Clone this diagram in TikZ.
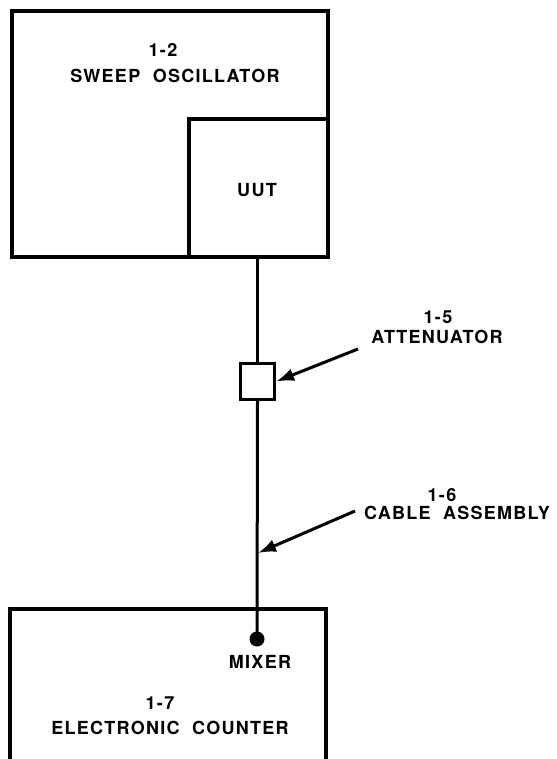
\documentclass[tikz,border=0pt]{standalone}
\usepackage{fontspec}
\setmainfont{TeX Gyre Heros}[LetterSpace=7]
\usetikzlibrary{arrows.meta}
\tikzset{
  box/.style={draw, line width=3.2pt, inner sep=0pt, minimum width=#1},
  lbl/.style={font=\fontsize{18}{20}\selectfont\bfseries, inner sep=0pt, align=center},
  pointer/.style={line width=3pt, -{Latex[length=18pt,width=13pt]}},
  wire/.style={line width=3pt},
}
\begin{document}
\begin{tikzpicture}[x=1pt,y=-1pt]
\clip (0,0) rectangle (556,759);
\fill[white] (0,0) rectangle (556,759);
% sweep oscillator
\node[box=316pt, minimum height=246pt] (sweep) at (170,134) {};
\node[box=139pt, minimum height=138pt] (uut) at (258.5,188) {};
\node[lbl] (n12) at (163,50) {1-2};
\node[lbl] (sweeplbl) at (175,76) {SWEEP\ \ OSCILLATOR};
\node[lbl] (uutlbl) at (257,190) {UUT};
% attenuator
\node[box=34pt, minimum height=36pt, fill=white] (att) at (257.5,381.5) {};
\draw[wire] (uut.south -| att.north) -- (att.north);
% mixer dot
\node[circle, fill=black, minimum size=15pt, inner sep=0pt] (dot) at (257,639) {};
\draw[wire] (att.south) -- (dot.center);
% electronic counter (bottom edge beyond the picture)
\node[box=316pt, minimum height=240pt] (counter) at (168,729) {};
\node[lbl] (mixer) at (260,662) {MIXER};
\node[lbl] (n17) at (160,703) {1-7};
\node[lbl] (counterlbl) at (170,728) {ELECTRONIC\ \ COUNTER};
% attenuator label
\node[lbl] (n15) at (438,317) {1-5};
\node[lbl] (attlbl) at (437,337) {ATTENUATOR};
\coordinate (atttail) at (358,349);
\draw[pointer] (atttail) -- (att.east);
% cable label
\node[lbl] (n16) at (442,495) {1-6};
\node[lbl] (cablelbl) at (457,513) {CABLE\ \ ASSEMBLY};
\coordinate (cabletail) at (355,511);
\coordinate (cablept) at (258,553);
\draw[pointer] (cabletail) -- (cablept);
\end{tikzpicture}
\end{document}
